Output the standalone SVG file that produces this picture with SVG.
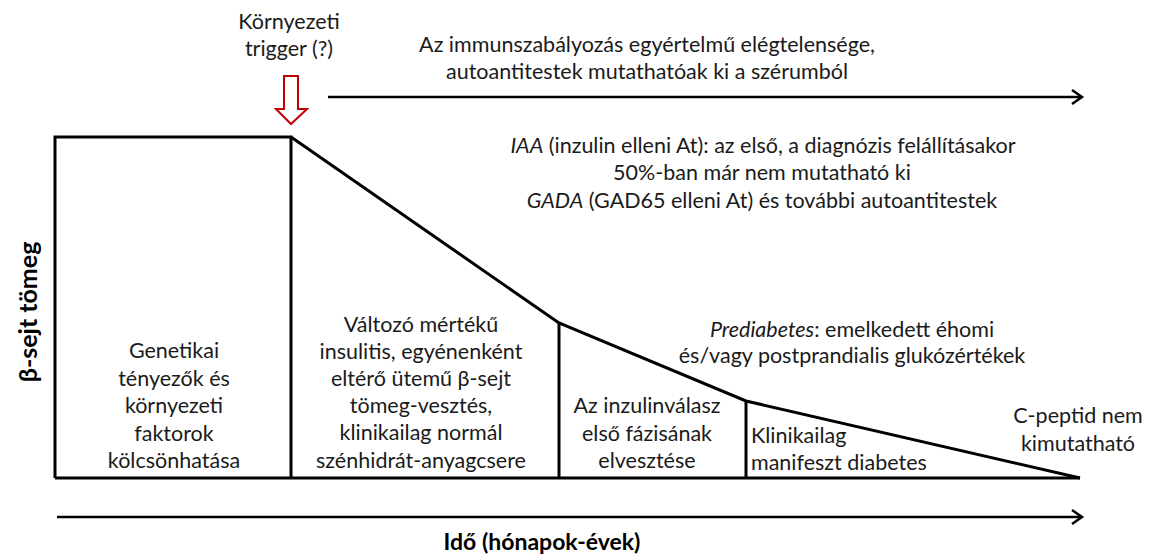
<svg xmlns="http://www.w3.org/2000/svg" width="1150" height="556" viewBox="0 0 1150 556">
<defs>
<style>
.t{font-family:Lato,"Open Sans","Liberation Sans",sans-serif;font-size:21.5px;fill:#1a1a1a;text-anchor:middle}
.l{text-anchor:start}
.b{font-weight:bold;fill:#000}
.i{font-style:italic}
.ln{stroke:#000;stroke-width:3;fill:none;stroke-linejoin:miter}
.ax{stroke:#000;stroke-width:2.5;fill:none}
</style>
<marker id="arr" markerUnits="userSpaceOnUse" markerWidth="14" markerHeight="18" refX="11" refY="8" orient="auto" overflow="visible">
<path d="M1,1 L11,8 L1,15" fill="none" stroke="#000" stroke-width="2.5"/>
</marker>
</defs>
<rect width="1150" height="556" fill="#fff"/>

<g id="connectors">
<line class="ax" x1="328" y1="97" x2="1082" y2="97" marker-end="url(#arr)"/>
<line class="ax" x1="57" y1="517" x2="1082" y2="517" marker-end="url(#arr)"/>
<path id="trigger-arrow" d="M284,76 H298 V109 H307 L291,124 L276,109 H284 Z" fill="#fff" stroke="#c00000" stroke-width="2"/>
</g>

<g id="curve">
<line class="ln" x1="55" y1="478" x2="1080" y2="478"/>
<polyline class="ln" points="291,137 559,323 746,401 1080,478"/>
</g>

<g id="stage-genetic">
<polyline class="ln" points="55,478 55,137 291,137 291,478"/>
<text class="t" x="174" y="358">Genetikai</text>
<text class="t" x="174" y="386">tényezők és</text>
<text class="t" x="174" y="413">környezeti</text>
<text class="t" x="174" y="441">faktorok</text>
<text class="t" x="174" y="468">kölcsönhatása</text>
</g>

<g id="stage-insulitis">
<text class="t" x="421" y="332">Változó mértékű</text>
<text class="t" x="421" y="359">insulitis, egyénenként</text>
<text class="t" x="421" y="386">eltérő ütemű β-sejt</text>
<text class="t" x="421" y="413">tömeg-vesztés,</text>
<text class="t" x="421" y="440">klinikailag normál</text>
<text class="t" x="421" y="468">szénhidrát-anyagcsere</text>
</g>

<g id="stage-firstphase">
<line class="ln" x1="559" y1="323" x2="559" y2="478"/>
<text class="t" x="647" y="413">Az inzulinválasz</text>
<text class="t" x="647" y="441">első fázisának</text>
<text class="t" x="647" y="468">elvesztése</text>
</g>

<g id="stage-manifest">
<line class="ln" x1="746" y1="401" x2="746" y2="478"/>
<text class="t l" x="751" y="443">Klinikailag</text>
<text class="t l" x="751" y="470">manifeszt diabetes</text>
</g>

<g id="stage-cpeptid">
<text class="t" x="1078" y="423">C-peptid nem</text>
<text class="t" x="1078" y="451">kimutatható</text>
</g>

<g id="trigger">
<text class="t" x="289" y="29">Környezeti</text>
<text class="t" x="289" y="56">trigger (?)</text>
</g>

<g id="immune">
<text class="t" x="647" y="52">Az immunszabályozás egyértelmű elégtelensége,</text>
<text class="t" x="647" y="79">autoantitestek mutathatóak ki a szérumból</text>
</g>

<g id="antibodies">
<text class="t" x="763" y="153"><tspan class="i">IAA</tspan> (inzulin elleni At): az első, a diagnózis felállításakor</text>
<text class="t" x="762" y="180">50%-ban már nem mutatható ki</text>
<text class="t" x="762" y="208"><tspan class="i">GADA</tspan> (GAD65 elleni At) és további autoantitestek</text>
</g>

<g id="prediabetes">
<text class="t" x="852" y="337"><tspan class="i">Prediabetes</tspan>: emelkedett éhomi</text>
<text class="t" x="852" y="363">és/vagy postprandialis glukózértékek</text>
</g>

<g id="axes-labels">
<text class="t b" x="542" y="550" style="font-size:23px">Idő (hónapok-évek)</text>
<text class="t b" transform="translate(37,312) rotate(-90)" x="0" y="0" style="font-size:25px">β-sejt tömeg</text>
</g>
</svg>
